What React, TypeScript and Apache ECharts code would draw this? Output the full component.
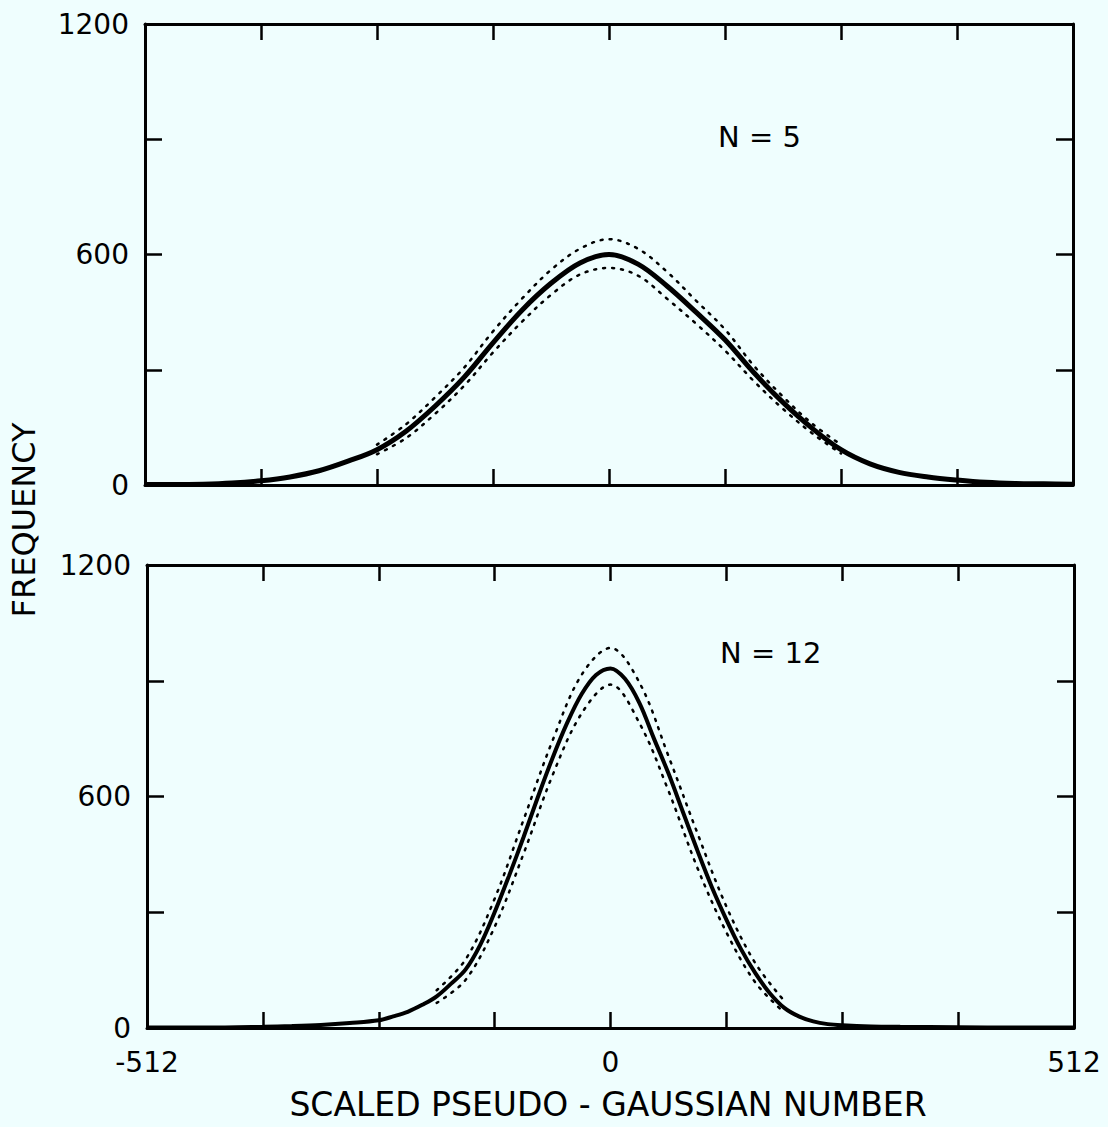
import React, { useEffect, useRef } from "react";
import * as echarts from "echarts";

// Bin positions (scaled pseudo-gaussian number)
const n5X = [-512, -480, -448, -416, -384, -352, -320, -288, -256, -224, -192, -160, -128, -96, -64, -32, 0, 32, 64, 96, 128, 160, 192, 224, 256, 288, 320, 352, 384, 416, 448, 480, 512];
// N = 5 panel: centre of the band of points
const n5Y = [1, 1, 2, 5, 11, 21, 37, 62, 92, 140, 205, 280, 370, 455, 525, 578, 600, 575, 518, 450, 378, 292, 215, 148, 92, 55, 33, 21, 13, 7, 4, 3, 2];
// N = 5 panel: upper and lower edges of the scattered points
const n5EdgeX = [-256, -224, -192, -160, -128, -96, -64, -32, 0, 32, 64, 96, 128, 160, 192, 224, 256];
const n5Upper = [105, 158, 228, 305, 400, 485, 560, 615, 640, 615, 555, 480, 405, 310, 230, 160, 105];
const n5Lower = [80, 122, 185, 258, 345, 425, 495, 548, 565, 545, 485, 420, 350, 270, 198, 135, 82];

// N = 12 panel
const n12X = [-512, -448, -384, -352, -320, -288, -256, -240, -224, -208, -192, -176, -160, -144, -128, -112, -96, -80, -64, -48, -32, -16, 0, 16, 32, 48, 64, 80, 96, 112, 128, 144, 160, 176, 192, 208, 224, 240, 256, 288, 320, 384, 448, 512];
const n12Y = [1, 1, 3, 5, 8, 13, 20, 30, 42, 60, 82, 115, 152, 215, 300, 395, 495, 600, 700, 790, 865, 915, 932, 905, 842, 750, 660, 560, 460, 365, 281, 205, 142, 90, 52, 30, 17, 10, 7, 4, 3, 2, 1, 1];
const n12EdgeX = [-192, -160, -128, -96, -64, -32, 0, 32, 64, 96, 128, 160, 192];
const n12Upper = [98, 178, 335, 540, 745, 915, 985, 895, 705, 505, 315, 168, 70];
const n12Lower = [65, 125, 262, 452, 655, 815, 890, 790, 615, 415, 248, 118, 40];

const xLabels = [-512, 0, 512];
const yLabels = [0, 600, 1200];
const panelNames = ["N = 5", "N = 12"];
const xTitle = "SCALED PSEUDO - GAUSSIAN NUMBER";
const yTitle = "FREQUENCY";

const FONT = "'DejaVu Sans', 'Liberation Sans', sans-serif";
const BG = "#effefe";

export default function App() {
  const ref = useRef<HTMLDivElement>(null);
  useEffect(() => {
    if (!ref.current) return;
    const chart = echarts.init(ref.current, null, { renderer: "svg" });
    const lineStyle = { color: "#000", width: 3 };
    const tickLine = { color: "#000", width: 2.5 };
    const mkX = (grid: number, pos: "top" | "bottom", labels: boolean) => ({
      type: "value",
      gridIndex: grid,
      position: pos,
      min: -512,
      max: 512,
      interval: 128,
      axisLine: { show: true, onZero: false, lineStyle },
      axisTick: { show: true, inside: true, length: 16, lineStyle: tickLine },
      splitLine: { show: false },
      axisLabel: {
        show: labels,
        showMinLabel: true,
        showMaxLabel: true,
        margin: 20,
        color: "#000",
        fontSize: 28,
        fontFamily: FONT,
        formatter: (v: number) => (xLabels.includes(v) ? String(v) : ""),
      },
    });
    const mkY = (grid: number, pos: "left" | "right", labels: boolean) => ({
      type: "value",
      gridIndex: grid,
      position: pos,
      min: 0,
      max: 1200,
      interval: 300,
      axisLine: { show: true, onZero: false, lineStyle },
      axisTick: { show: true, inside: true, length: 17, lineStyle: tickLine },
      splitLine: { show: false },
      axisLabel: {
        show: labels,
        showMinLabel: true,
        showMaxLabel: true,
        margin: 16,
        color: "#000",
        fontSize: 28,
        fontFamily: FONT,
        formatter: (v: number) => (yLabels.includes(v) ? String(v) : ""),
      },
    });
    const toPairs = (xs: number[], ys: number[]) => xs.map((x, i) => [x, ys[i]]);
    const centre = (xi: number, xs: number[], ys: number[], w: number) => ({
      type: "line",
      xAxisIndex: xi,
      yAxisIndex: xi,
      data: toPairs(xs, ys),
      smooth: 0.35,
      showSymbol: false,
      lineStyle: { color: "#000", width: w },
    });
    const edge = (xi: number, xs: number[], ys: number[]) => ({
      type: "line",
      xAxisIndex: xi,
      yAxisIndex: xi,
      data: toPairs(xs, ys),
      smooth: 0.35,
      showSymbol: false,
      lineStyle: { color: "#000", width: 2.5, type: [2, 7], cap: "round" },
    });
    chart.setOption({
      animation: false,
      backgroundColor: BG,
      grid: [
        { left: 145, top: 24, width: 928, height: 461 },
        { left: 147, top: 565, width: 927, height: 463 },
      ],
      xAxis: [mkX(0, "bottom", false), mkX(0, "top", false), mkX(1, "bottom", true), mkX(1, "top", false)],
      yAxis: [mkY(0, "left", true), mkY(0, "right", false), mkY(1, "left", true), mkY(1, "right", false)],
      series: [
        centre(0, n5X, n5Y, 5),
        edge(0, n5EdgeX, n5Upper),
        edge(0, n5EdgeX, n5Lower),
        centre(2, n12X, n12Y, 4),
        edge(2, n12EdgeX, n12Upper),
        edge(2, n12EdgeX, n12Lower),
      ],
      graphic: [
        {
          type: "text",
          x: 24,
          y: 520,
          rotation: Math.PI / 2,
          style: { text: yTitle, fill: "#000", font: `32px ${FONT}`, align: "center", verticalAlign: "middle" },
        },
        {
          type: "text",
          x: 608,
          y: 1104,
          style: { text: xTitle, fill: "#000", font: `33px ${FONT}`, align: "center", verticalAlign: "middle" },
        },
        {
          type: "text",
          x: 718,
          y: 137,
          style: { text: panelNames[0], fill: "#000", font: `29px ${FONT}`, align: "left", verticalAlign: "middle" },
        },
        {
          type: "text",
          x: 720,
          y: 653,
          style: { text: panelNames[1], fill: "#000", font: `29px ${FONT}`, align: "left", verticalAlign: "middle" },
        },
      ],
    });
    return () => chart.dispose();
  }, []);
  return (
    <div
      ref={ref}
      style={{ position: "fixed", left: 0, top: 0, width: 1108, height: 1127, background: BG }}
    />
  );
}
